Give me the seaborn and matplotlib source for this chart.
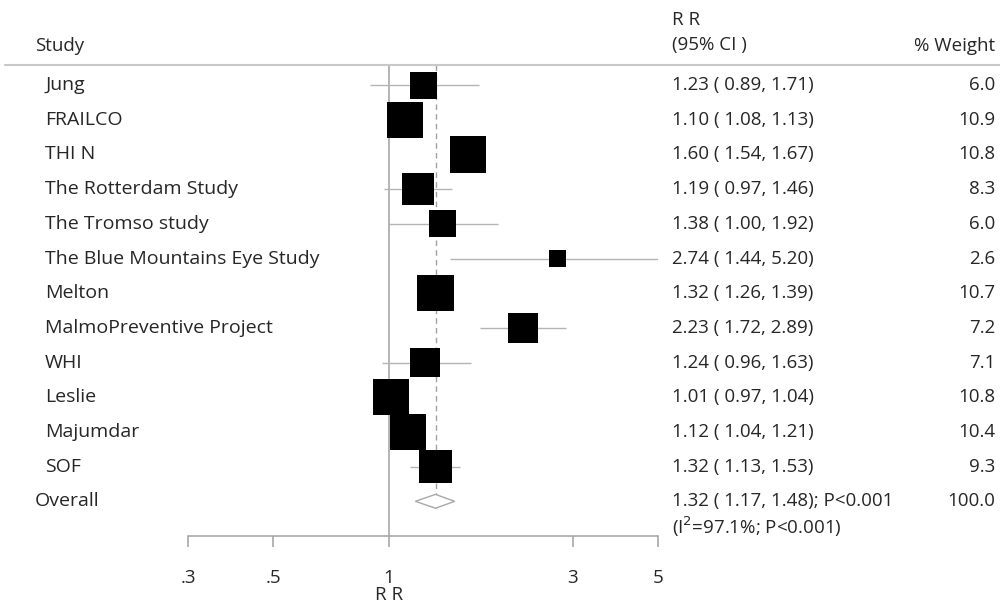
import numpy as np
import matplotlib
matplotlib.use("Agg")
import matplotlib.pyplot as plt
import matplotlib.transforms as mtransforms
import seaborn as sns

# dane z wykresu
studies = ["Jung", "FRAILCO", "THI N", "The Rotterdam Study", "The Tromso study",
           "The Blue Mountains Eye Study", "Melton", "MalmoPreventive Project",
           "WHI", "Leslie", "Majumdar", "SOF"]
rr = [1.23, 1.10, 1.60, 1.19, 1.38, 2.74, 1.32, 2.23, 1.24, 1.01, 1.12, 1.32]
ci_low = [0.89, 1.08, 1.54, 0.97, 1.00, 1.44, 1.26, 1.72, 0.96, 0.97, 1.04, 1.13]
ci_high = [1.71, 1.13, 1.67, 1.46, 1.92, 5.20, 1.39, 2.89, 1.63, 1.04, 1.21, 1.53]
weights = [6.0, 10.9, 10.8, 8.3, 6.0, 2.6, 10.7, 7.2, 7.1, 10.8, 10.4, 9.3]
overall_rr = 1.32
overall_low = 1.17
overall_high = 1.48
overall_weight = "100.0"
overall_text = "1.32 ( 1.17, 1.48); P<0.001"
overall_het = "(I$^2$=97.1%; P<0.001)"
tick_vals = [0.3, 0.5, 1, 3, 5]
tick_labels = [".3", ".5", "1", "3", "5"]

sns.set_theme(style="white")
plt.rcParams["font.family"] = ["Open Sans", "DejaVu Sans"]

W, H = 1000, 606
fig = plt.figure(figsize=(10, 6.06), dpi=100)
ax = fig.add_axes([188 / W, 1 - 536 / H, (658 - 188) / W, (536 - 65) / H])
ax.set_xscale("log")
ax.set_xlim(0.3, 5)
ax.set_ylim(13, -0.58)

grey = "#b4b4b4"
n = len(studies)
ypos = np.arange(n)

# linie odniesienia
ax.axvline(1, color="#a8a8a8", lw=1.2, zorder=1)
ax.vlines(overall_rr, -0.58, n + 0.2, color="#a0a0a0", lw=1.0, linestyles=(0, (4, 3)), zorder=1)

# przedzialy ufnosci (obciete do zakresu osi)
ax.hlines(ypos, np.clip(ci_low, 0.3, 5), np.clip(ci_high, 0.3, 5), color=grey, lw=1.0, zorder=2)

# kwadraty - pole proporcjonalne do wagi
sns.scatterplot(x=rr, y=ypos, s=np.array(weights) * 63.0, marker="s", color="black",
                linewidth=0, ax=ax, zorder=3, legend=False)

# romb dla wyniku lacznego
dy = 0.2
ax.fill([overall_low, overall_rr, overall_high, overall_rr, overall_low],
        [n, n - dy, n, n + dy, n], facecolor="white", edgecolor="#a8a8a8", lw=1.0, zorder=4)

# os x
for s in ["top", "right", "left"]:
    ax.spines[s].set_visible(False)
ax.spines["bottom"].set_color("#a8a8a8")
ax.spines["bottom"].set_linewidth(1.2)
ax.set_yticks([])
ax.xaxis.set_minor_locator(matplotlib.ticker.NullLocator())
ax.set_xticks(tick_vals)
ax.set_xticklabels(tick_labels, fontsize=13.5)
ax.tick_params(axis="x", direction="out", length=8, width=1.2, color="#a8a8a8", pad=16, bottom=True)
ax.set_xlabel("R R", fontsize=13.5, labelpad=-1)
ax.xaxis.label.set_x((389 - 188) / 470)

# kolumny tekstowe
tr = mtransforms.blended_transform_factory(fig.transFigure, ax.transData)
fs_name = 14
fs = 13.5
for i in range(n):
    ax.text(45 / W, i, studies[i], transform=tr, fontsize=fs_name, va="center", ha="left")
    ax.text(672 / W, i, f"{rr[i]:.2f} ( {ci_low[i]:.2f}, {ci_high[i]:.2f})",
            transform=tr, fontsize=fs, va="center", ha="left")
    ax.text(995 / W, i, f"{weights[i]:.1f}", transform=tr, fontsize=fs, va="center", ha="right")

ax.text(35 / W, n, "Overall", transform=tr, fontsize=fs_name, va="center", ha="left")
ax.text(672 / W, n, overall_text, transform=tr, fontsize=fs, va="center", ha="left")
ax.text(672 / W, n + 0.72, overall_het, transform=tr, fontsize=fs, va="center", ha="left")
ax.text(995 / W, n, overall_weight, transform=tr, fontsize=fs, va="center", ha="right")

# naglowek
fig.text(35 / W, 1 - 46 / H, "Study", fontsize=fs, va="center", ha="left")
fig.text(672 / W, 1 - 20 / H, "R R", fontsize=fs, va="center", ha="left")
fig.text(672 / W, 1 - 45 / H, "(95% CI )", fontsize=fs, va="center", ha="left")
fig.text(995 / W, 1 - 46 / H, "% Weight", fontsize=fs, va="center", ha="right")
ax.plot([5 / W, 1.0], [-0.58, -0.58], transform=tr, color="#c8c8c8", lw=1.5, clip_on=False)

fig.savefig("out.png", dpi=100)
